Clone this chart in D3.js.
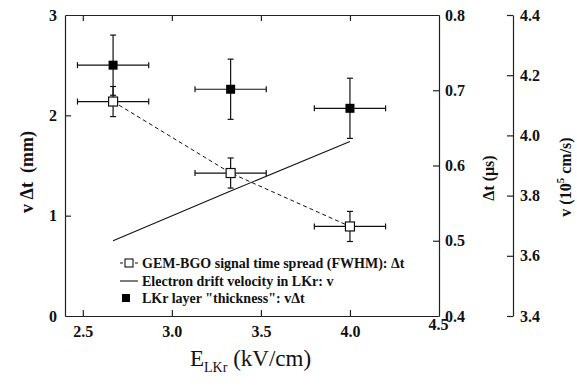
<!DOCTYPE html>
<html>
<head>
<meta charset="utf-8">
<script src="https://cdn.jsdelivr.net/npm/d3@7"></script>
<style>
  body { margin: 0; background: #fff; }
  svg, svg text { font-family: "Liberation Serif", "Times New Roman", serif; }
</style>
</head>
<body>
<svg id="chart" width="577" height="386"></svg>
<script>
// data
var field = [2.67, 3.33, 4.0];          // E_LKr (kV/cm)
var fieldErr = [0.2, 0.2, 0.2];
var thickness = [2.5, 2.26, 2.07];      // v*dt (mm), left axis
var thicknessErr = [0.3, 0.3, 0.3];
var spread = [0.685, 0.59, 0.519];      // dt (us), right axis
var spreadErr = [0.02, 0.02, 0.02];
var velocity = [3.65, 3.815, 3.98];     // v (1e5 cm/s), far right axis

var xTicks = [2.5, 3.0, 3.5, 4.0, 4.5];
var yTicks = [0, 1, 2, 3];
var dtTicks = [0.4, 0.5, 0.6, 0.7, 0.8];
var vTicks = [3.4, 3.6, 3.8, 4.0, 4.2, 4.4];

var legendLabels = ["GEM-BGO signal time spread (FWHM): \u0394t",
                    "Electron drift velocity in LKr: v",
                    "LKr layer \"thickness\": v\u0394t"];

var svg = d3.select("#chart");
// plot frame
var pLeft = 65, pRight = 439, pTop = 15, pBottom = 316;

var x = d3.scaleLinear().domain([2.4, 4.5]).range([pLeft, pRight]);
var y = d3.scaleLinear().domain([0, 3]).range([pBottom, pTop]);
var yDt = d3.scaleLinear().domain([0.4, 0.8]).range([pBottom, pTop]);
var yV = d3.scaleLinear().domain([3.4, 4.4]).range([pBottom, pTop]);

function styleAxis(g) {
  g.attr("font-family", null);
  g.selectAll("path, line").attr("stroke", "#222").attr("stroke-width", 1.2);
  g.selectAll("text")
    .attr("font-weight", "bold").attr("font-size", 16).attr("fill", "#111");
}

// bottom axis
var xAxis = svg.append("g").attr("transform", `translate(0,${pBottom})`)
  .call(d3.axisBottom(x).tickValues(xTicks).tickFormat(d3.format(".1f"))
    .tickSizeInner(-6).tickSizeOuter(0).tickPadding(10))
  .call(styleAxis);
// last label sits a bit higher, like the original
xAxis.selectAll(".tick").filter(d => d === 4.5).select("text")
  .attr("dy", "0.25em").attr("x", -1);
xAxis.selectAll(".tick").filter(d => d === 4.5).select("line").remove();

// top axis (ticks only)
svg.append("g").attr("transform", `translate(0,${pTop})`)
  .call(d3.axisTop(x).tickValues([2.5, 3.0, 3.5, 4.0]).tickFormat("")
    .tickSizeInner(-6).tickSizeOuter(0))
  .call(styleAxis);

// left axis
svg.append("g").attr("transform", `translate(${pLeft},0)`)
  .call(d3.axisLeft(y).tickValues(yTicks).tickFormat(d3.format("d"))
    .tickSizeInner(-6).tickSizeOuter(0).tickPadding(8))
  .call(styleAxis)
  .selectAll(".tick").filter(d => d === 0 || d === 3).select("line").remove();

// right axis: dt
svg.append("g").attr("transform", `translate(${pRight},0)`)
  .call(d3.axisRight(yDt).tickValues(dtTicks).tickFormat(d3.format(".1f"))
    .tickSizeInner(-6).tickSizeOuter(0).tickPadding(6))
  .call(styleAxis)
  .selectAll(".tick").filter(d => d === 0.4 || d === 0.8).select("line").remove();

// far right axis: v
svg.append("g").attr("transform", "translate(513,0)")
  .call(d3.axisRight(yV).tickValues(vTicks).tickFormat(d3.format(".1f"))
    .tickSizeInner(-6).tickSizeOuter(0).tickPadding(7))
  .call(styleAxis);

// error bars
var errG = svg.append("g").attr("stroke", "#111").attr("stroke-width", 1.2);
function errorBars(ys, yScale, yErr) {
  field.forEach(function (f, i) {
    var cx = x(f), cy = yScale(ys[i]);
    var x0 = x(f - fieldErr[i]), x1 = x(f + fieldErr[i]);
    var y0 = yScale(ys[i] - yErr[i]), y1 = yScale(ys[i] + yErr[i]);
    errG.append("line").attr("x1", x0).attr("x2", x1).attr("y1", cy).attr("y2", cy);
    errG.append("line").attr("x1", x0).attr("x2", x0).attr("y1", cy - 3).attr("y2", cy + 3);
    errG.append("line").attr("x1", x1).attr("x2", x1).attr("y1", cy - 3).attr("y2", cy + 3);
    errG.append("line").attr("x1", cx).attr("x2", cx).attr("y1", y0).attr("y2", y1);
    errG.append("line").attr("x1", cx - 3).attr("x2", cx + 3).attr("y1", y0).attr("y2", y0);
    errG.append("line").attr("x1", cx - 3).attr("x2", cx + 3).attr("y1", y1).attr("y2", y1);
  });
}
errorBars(thickness, y, thicknessErr);
errorBars(spread, yDt, spreadErr);

// dashed line through dt points
svg.append("path")
  .attr("d", d3.line()(field.map((f, i) => [x(f), yDt(spread[i])])))
  .attr("fill", "none").attr("stroke", "#111").attr("stroke-width", 1)
  .attr("stroke-dasharray", "4,3");

// solid line: drift velocity
svg.append("path")
  .attr("d", d3.line()(field.map((f, i) => [x(f), yV(velocity[i])])))
  .attr("fill", "none").attr("stroke", "#111").attr("stroke-width", 1.1);

// open squares
svg.append("g").selectAll("rect").data(field).enter().append("rect")
  .attr("x", (d, i) => x(d) - 4.5).attr("y", (d, i) => yDt(spread[i]) - 4.5)
  .attr("width", 9).attr("height", 9)
  .attr("fill", "#fff").attr("stroke", "#111").attr("stroke-width", 1.2);

// filled squares
svg.append("g").selectAll("rect").data(field).enter().append("rect")
  .attr("x", (d, i) => x(d) - 4.5).attr("y", (d, i) => y(thickness[i]) - 4.5)
  .attr("width", 9).attr("height", 9).attr("fill", "#000");

// legend
var legend = svg.append("g").attr("transform", "translate(120,263)");
legend.append("line").attr("x1", 0).attr("x2", 18).attr("y1", 0).attr("y2", 0)
  .attr("stroke", "#111").attr("stroke-width", 1).attr("stroke-dasharray", "3,2");
legend.append("rect").attr("x", 5).attr("y", -4).attr("width", 8).attr("height", 8)
  .attr("fill", "#fff").attr("stroke", "#111").attr("stroke-width", 1.1);
legend.append("line").attr("x1", 0).attr("x2", 18).attr("y1", 18).attr("y2", 18)
  .attr("stroke", "#111").attr("stroke-width", 1.1);
legend.append("rect").attr("x", 2).attr("y", 31).attr("width", 8).attr("height", 8)
  .attr("fill", "#000");
legend.selectAll(".lt").data(legendLabels).enter().append("text")
  .attr("x", 22).attr("y", (d, i) => i * 17.5 + 5)
  .attr("font-size", 14).attr("font-weight", "bold").attr("fill", "#111")
  .text(d => d);

// axis titles
svg.append("text").attr("transform", "translate(33,172) rotate(-90)")
  .attr("text-anchor", "middle").attr("font-size", 18).attr("font-weight", "bold")
  .attr("fill", "#111").attr("xml:space", "preserve").text("v \u0394t  (mm)");

svg.append("text").attr("transform", "translate(494,178) rotate(-90)")
  .attr("text-anchor", "middle").attr("font-size", 16).attr("font-weight", "bold")
  .attr("fill", "#111").text("\u0394t (\u03bcs)");

var vt = svg.append("text").attr("transform", "translate(571,177) rotate(-90)")
  .attr("text-anchor", "middle").attr("font-size", 16).attr("font-weight", "bold")
  .attr("fill", "#111");
vt.append("tspan").text("v (10");
vt.append("tspan").attr("dy", -7).attr("font-size", 11).text("5");
vt.append("tspan").attr("dy", 7).text(" cm/s)");

var xt = svg.append("text").attr("x", 190).attr("y", 366)
  .attr("font-size", 23).attr("fill", "#111");
xt.append("tspan").text("E");
xt.append("tspan").attr("dy", 6).attr("font-size", 14).text("LKr");
xt.append("tspan").attr("dy", -6).text(" (kV/cm)");
</script>
</body>
</html>
